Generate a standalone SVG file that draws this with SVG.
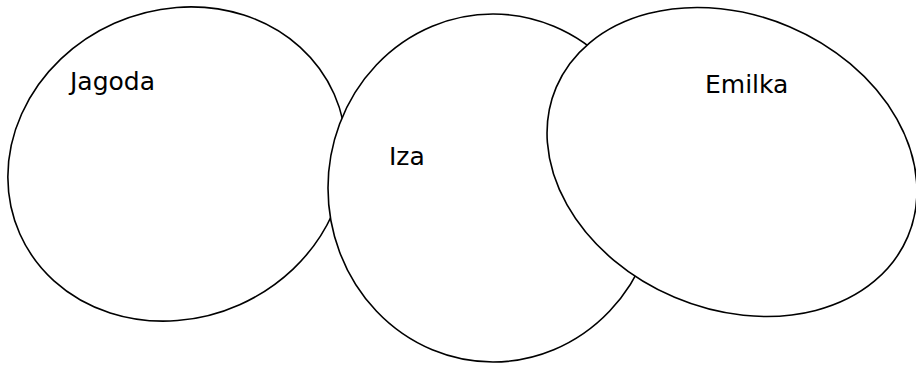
<svg xmlns="http://www.w3.org/2000/svg" width="916" height="368" viewBox="0 0 916 368">
<style>
.n{fill:#fff;stroke:#000;stroke-width:1.6}
.t{font-family:"DejaVu Sans",sans-serif;font-size:25px;fill:#000}
</style>
<rect width="916" height="368" fill="#fff"/>
<g id="jagoda">
<ellipse class="n" cx="177" cy="164" rx="172" ry="154" transform="rotate(-24 177 164)"/>
<text class="t" x="70" y="90">Jagoda</text>
</g>
<g id="iza">
<ellipse class="n" cx="493" cy="188" rx="165" ry="174"/>
<text class="t" x="389" y="165">Iza</text>
</g>
<g id="emilka">
<ellipse class="n" cx="732" cy="162" rx="191" ry="147" transform="rotate(23 732 162)"/>
<text class="t" x="705" y="93">Emilka</text>
</g>
<g id="connectors"/>
</svg>
